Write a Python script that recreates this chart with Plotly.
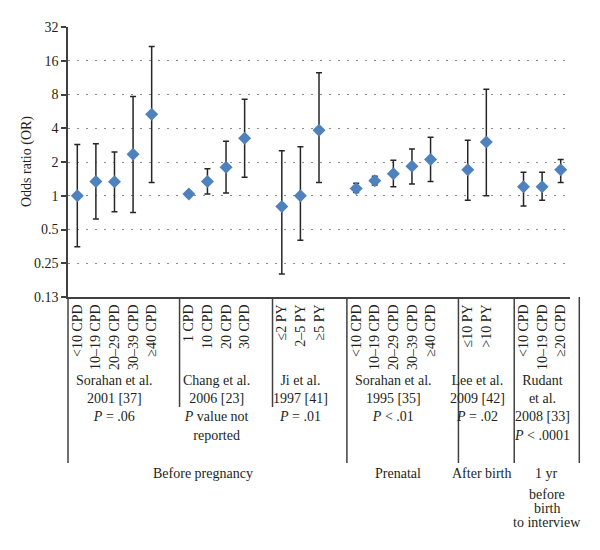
import plotly.graph_objects as go

# study groups (label under the columns) and their category labels
study_labels = [
    "Sorahan et al.<br>2001 [37]<br><i>P</i> = .06",
    "Chang et al.<br>2006 [23]<br><i>P</i> value not<br>reported",
    "Ji et al.<br>1997 [41]<br><i>P</i> = .01",
    "Sorahan et al.<br>1995 [35]<br><i>P</i> &lt; .01",
    "Lee et al.<br>2009 [42]<br><i>P</i> = .02",
    "Rudant<br>et al.<br>2008 [33]<br><i>P</i> &lt; .0001",
]
study_cats = [
    ["&lt;10 CPD", "10–19 CPD", "20–29 CPD", "30–39 CPD", "≥40 CPD"],
    ["1 CPD", "10 CPD", "20 CPD", "30 CPD"],
    ["≤2 PY", "2–5 PY", "≥5 PY"],
    ["&lt;10 CPD", "10–19 CPD", "20–29 CPD", "30–39 CPD", "≥40 CPD"],
    ["≤10 PY", "&gt;10 PY"],
    ["&lt;10 CPD", "10–19 CPD", "≥20 CPD"],
]
# exposure periods: label lines and number of studies covered
periods = [["Before pregnancy"], ["Prenatal"], ["After birth"],
           ["1 yr", "before", "birth", "to interview"]]
period_sizes = [3, 1, 1, 1]

odds_ratio = [1.0, 1.34, 1.33, 2.34, 5.33,
              1.035, 1.34, 1.80, 3.25,
              0.80, 1.0, 3.83,
              1.16, 1.36, 1.57, 1.83, 2.11,
              1.71, 3.02,
              1.20, 1.20, 1.71]
ci_low = [0.35, 0.62, 0.72, 0.71, 1.31,
          None, 1.035, 1.06, 1.46,
          0.20, 0.40, 1.31,
          1.07, 1.25, 1.20, 1.27, 1.34,
          0.91, 1.0,
          0.81, 0.91, 1.31]
ci_high = [2.86, 2.91, 2.46, 7.66, 21.4,
           None, 1.74, 3.06, 7.25,
           2.52, 2.74, 12.5,
           1.29, 1.49, 2.07, 2.61, 3.32,
           3.12, 8.9,
           1.62, 1.62, 2.10]

# positions: one blank column between studies
xs, tick_text, starts, centers = [], [], [], []
pos = 0
for cats in study_cats:
    starts.append(pos - 0.5)
    centers.append(pos + (len(cats) - 1) / 2)
    for c in cats:
        xs.append(pos)
        tick_text.append(c)
        pos += 1
    pos += 1
n_cols = pos - 1
ends = [s + len(c) + 0.5 for s, c in zip(starts, study_cats)]

err_up = [None if h is None else h - v for h, v in zip(ci_high, odds_ratio)]
err_dn = [None if l is None else v - l for l, v in zip(ci_low, odds_ratio)]

# page body has an 8px margin, so the figure is drawn 8px in
W, H = 592, 542
L, R, T, B = 60, 30, 19, 253
plot_h = H - T - B
plot_w = W - L - R
def py(p):  # screen y -> paper y
    return (297 - p) / plot_h
def px(x):
    return (x + 0.5) / n_cols

txt = "#231f20"
line = "#404040"
font = "Liberation Serif"

fig = go.Figure(go.Scatter(
    x=xs, y=odds_ratio, mode="markers",
    marker=dict(symbol="diamond", size=10, color="#4f81bd"),
    error_y=dict(type="data", symmetric=False, array=err_up, arrayminus=err_dn,
                 color="#262626", thickness=1.5, width=3),
    showlegend=False,
))

shapes = []
# study separators; long ones also separate periods
period_edges = set()
k = 0
for s in period_sizes:
    period_edges.add(k)
    k += s
period_edges.add(len(study_cats))
for i in range(len(study_cats) + 1):
    xpos = starts[i] if i < len(study_cats) else ends[-1]
    bottom = 463 if i in period_edges else 407
    shapes.append(dict(type="line", xref="paper", yref="paper",
                       x0=px(xpos), x1=px(xpos), y0=0, y1=py(bottom),
                       line=dict(color=line, width=1.5)))

annotations = [dict(x=-41 / plot_w, y=0.5, xref="paper", yref="paper",
                    text="Odds ratio (OR)", textangle=-90, showarrow=False,
                    xanchor="center", yanchor="middle",
                    font=dict(size=14, color=txt, family=font))]
for lab, cx in zip(study_labels, centers):
    annotations.append(dict(x=cx, y=py(371), xref="x", yref="paper", text=lab,
                            showarrow=False, yanchor="top", xanchor="center",
                            font=dict(size=14, color=txt, family=font)))
k = 0
for lines, s in zip(periods, period_sizes):
    cx = (starts[k] + ends[k + s - 1]) / 2
    for j, t in enumerate(lines):
        yc = 474 if j == 0 else 480 + 14 * j
        annotations.append(dict(x=cx, y=py(yc), xref="x", yref="paper", text=t,
                                showarrow=False, yanchor="middle", xanchor="center",
                                font=dict(size=14, color=txt, family=font)))
    k += s

fig.update_layout(
    width=W, height=H,
    margin=dict(l=L, r=R, t=T, b=B),
    paper_bgcolor="white", plot_bgcolor="white",
    font=dict(family=font, color=txt, size=14),
    shapes=shapes, annotations=annotations,
    xaxis=dict(range=[-0.5, n_cols - 0.5], tickvals=xs, ticktext=tick_text,
               tickangle=-90, showgrid=False, zeroline=False, automargin=False,
               showline=True, linecolor=line, linewidth=1.5, ticks="",
               tickfont=dict(size=14, color=txt, family=font)),
    yaxis=dict(type="log", range=[-0.90309, 1.50515], automargin=False,
               tickvals=[0.125, 0.25, 0.5, 1, 2, 4, 8, 16, 32],
               ticktext=["0.13", "0.25", "0.5", "1", "2", "4", "8", "16", "32"],
               showgrid=True, gridcolor="#8c8c8c", gridwidth=1, griddash="2px,7px",
               showline=True, linecolor=line, linewidth=1.5,
               ticks="outside", ticklen=5, tickcolor=line, tickwidth=1.5,
               zeroline=False,
               tickfont=dict(size=14, color=txt, family=font)),
)

fig.write_html("out.html")
